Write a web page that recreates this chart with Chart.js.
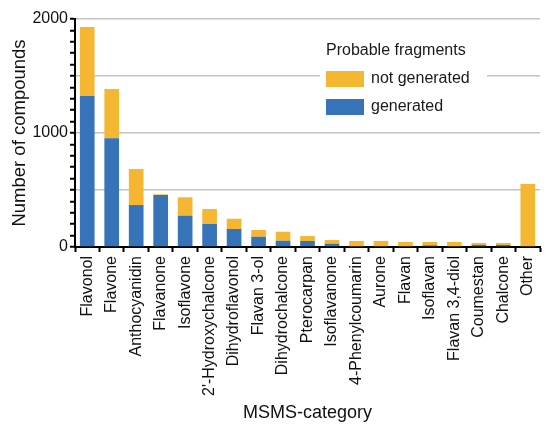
<!DOCTYPE html>
<html>
<head>
<meta charset="utf-8">
<script src="https://cdn.jsdelivr.net/npm/chart.js@4.4.0/dist/chart.umd.min.js"></script>
<style>
  html, body { margin: 0; padding: 0; background: #fff; }
  #wrap { width: 551px; height: 424px; position: relative; }
</style>
</head>
<body>
<div id="wrap"><canvas id="msmsChart"></canvas></div>
<script>
const categories = ['Flavonol', 'Flavone', 'Anthocyanidin', 'Flavanone', 'Isoflavone', "2'-Hydroxychalcone",
    'Dihydroflavonol', 'Flavan 3-ol', 'Dihydrochalcone', 'Pterocarpan', 'Isoflavanone', '4-Phenylcoumarin',
    'Aurone', 'Flavan', 'Isoflavan', 'Flavan 3,4-diol', 'Coumestan', 'Chalcone', 'Other'];
// bottom segment
const generated = [1325, 953, 368, 456, 275, 202, 158, 90, 55, 53, 29, 0, 0, 0, 15, 0, 18, 18, 0];
// top segment
const notGenerated = [605, 433, 316, 6, 161, 131, 90, 59, 79, 43, 32, 53, 53, 44, 29, 44, 17, 17, 553];
const yTickLabels = [0, 1000, 2000];

const ctx = document.getElementById('msmsChart').getContext('2d');
const FONT = "'Liberation Sans', Arial, sans-serif";
Chart.defaults.font.family = FONT;
Chart.defaults.color = '#000';

const legendBox = {
    id: 'legendBox',
    afterDraw(chart) {
        const c = chart.ctx;
        c.save();
        c.fillStyle = '#fff';
        c.fillRect(320, 36, 167, 84);
        c.font = '16px ' + FONT;
        c.fillStyle = '#1a1a1a';
        c.textBaseline = 'middle';
        c.fillText('Probable fragments', 326, 51);
        const items = chart.data.datasets.slice().reverse();
        items.forEach((ds, i) => {
            const y = 71 + i * 28;
            c.fillStyle = ds.backgroundColor;
            c.fillRect(326, y, 38, 16);
            c.fillStyle = '#1a1a1a';
            c.fillText(ds.label, 371, y + 8);
        });
        c.restore();
    }
};

new Chart(ctx, {
    type: 'bar',
    data: {
        labels: categories,
        datasets: [
            { label: 'generated', data: generated, backgroundColor: '#3773b8', borderWidth: 0 },
            { label: 'not generated', data: notGenerated, backgroundColor: '#f5b731', borderWidth: 0 }
        ]
    },
    options: {
        responsive: true,
        maintainAspectRatio: false,
        animation: false,
        layout: { padding: { top: 19, right: 0, left: 5, bottom: 0 } },
        plugins: { legend: { display: false }, tooltip: { enabled: false } },
        datasets: { bar: { barPercentage: 0.6, categoryPercentage: 1 } },
        scales: {
            x: {
                stacked: true,
                border: { color: '#000', width: 2 },
                grid: { drawOnChartArea: false, offset: true, tickColor: '#000', tickLength: 5, tickWidth: 2 },
                ticks: { autoSkip: false, maxRotation: 90, minRotation: 90, padding: 4, font: { size: 16 }, color: '#111' },
                title: { display: true, text: 'MSMS-category', font: { size: 18 }, color: '#111', padding: { top: 4, bottom: 0 } },
                afterFit(scale) { scale.height = 177; }
            },
            y: {
                stacked: true,
                min: 0, max: 2000,
                border: { color: '#000', width: 2 },
                grid: {
                    color: c => (c.tick && c.tick.value > 0 && c.tick.value % 500 === 0) ? '#c4c4c4' : 'rgba(0,0,0,0)',
                    lineWidth: 1.5,
                    tickColor: '#000', tickLength: 5, tickWidth: 2
                },
                ticks: {
                    stepSize: 100, autoSkip: false, padding: 2, font: { size: 16 }, color: '#111',
                    callback: v => yTickLabels.includes(v) ? String(v) : ''
                },
                title: { display: true, text: 'Number of compounds', font: { size: 18.5 }, color: '#111', padding: { bottom: 2 } },
                afterFit(scale) { scale.width = 70; }
            }
        }
    },
    plugins: [legendBox]
});
</script>
</body>
</html>
